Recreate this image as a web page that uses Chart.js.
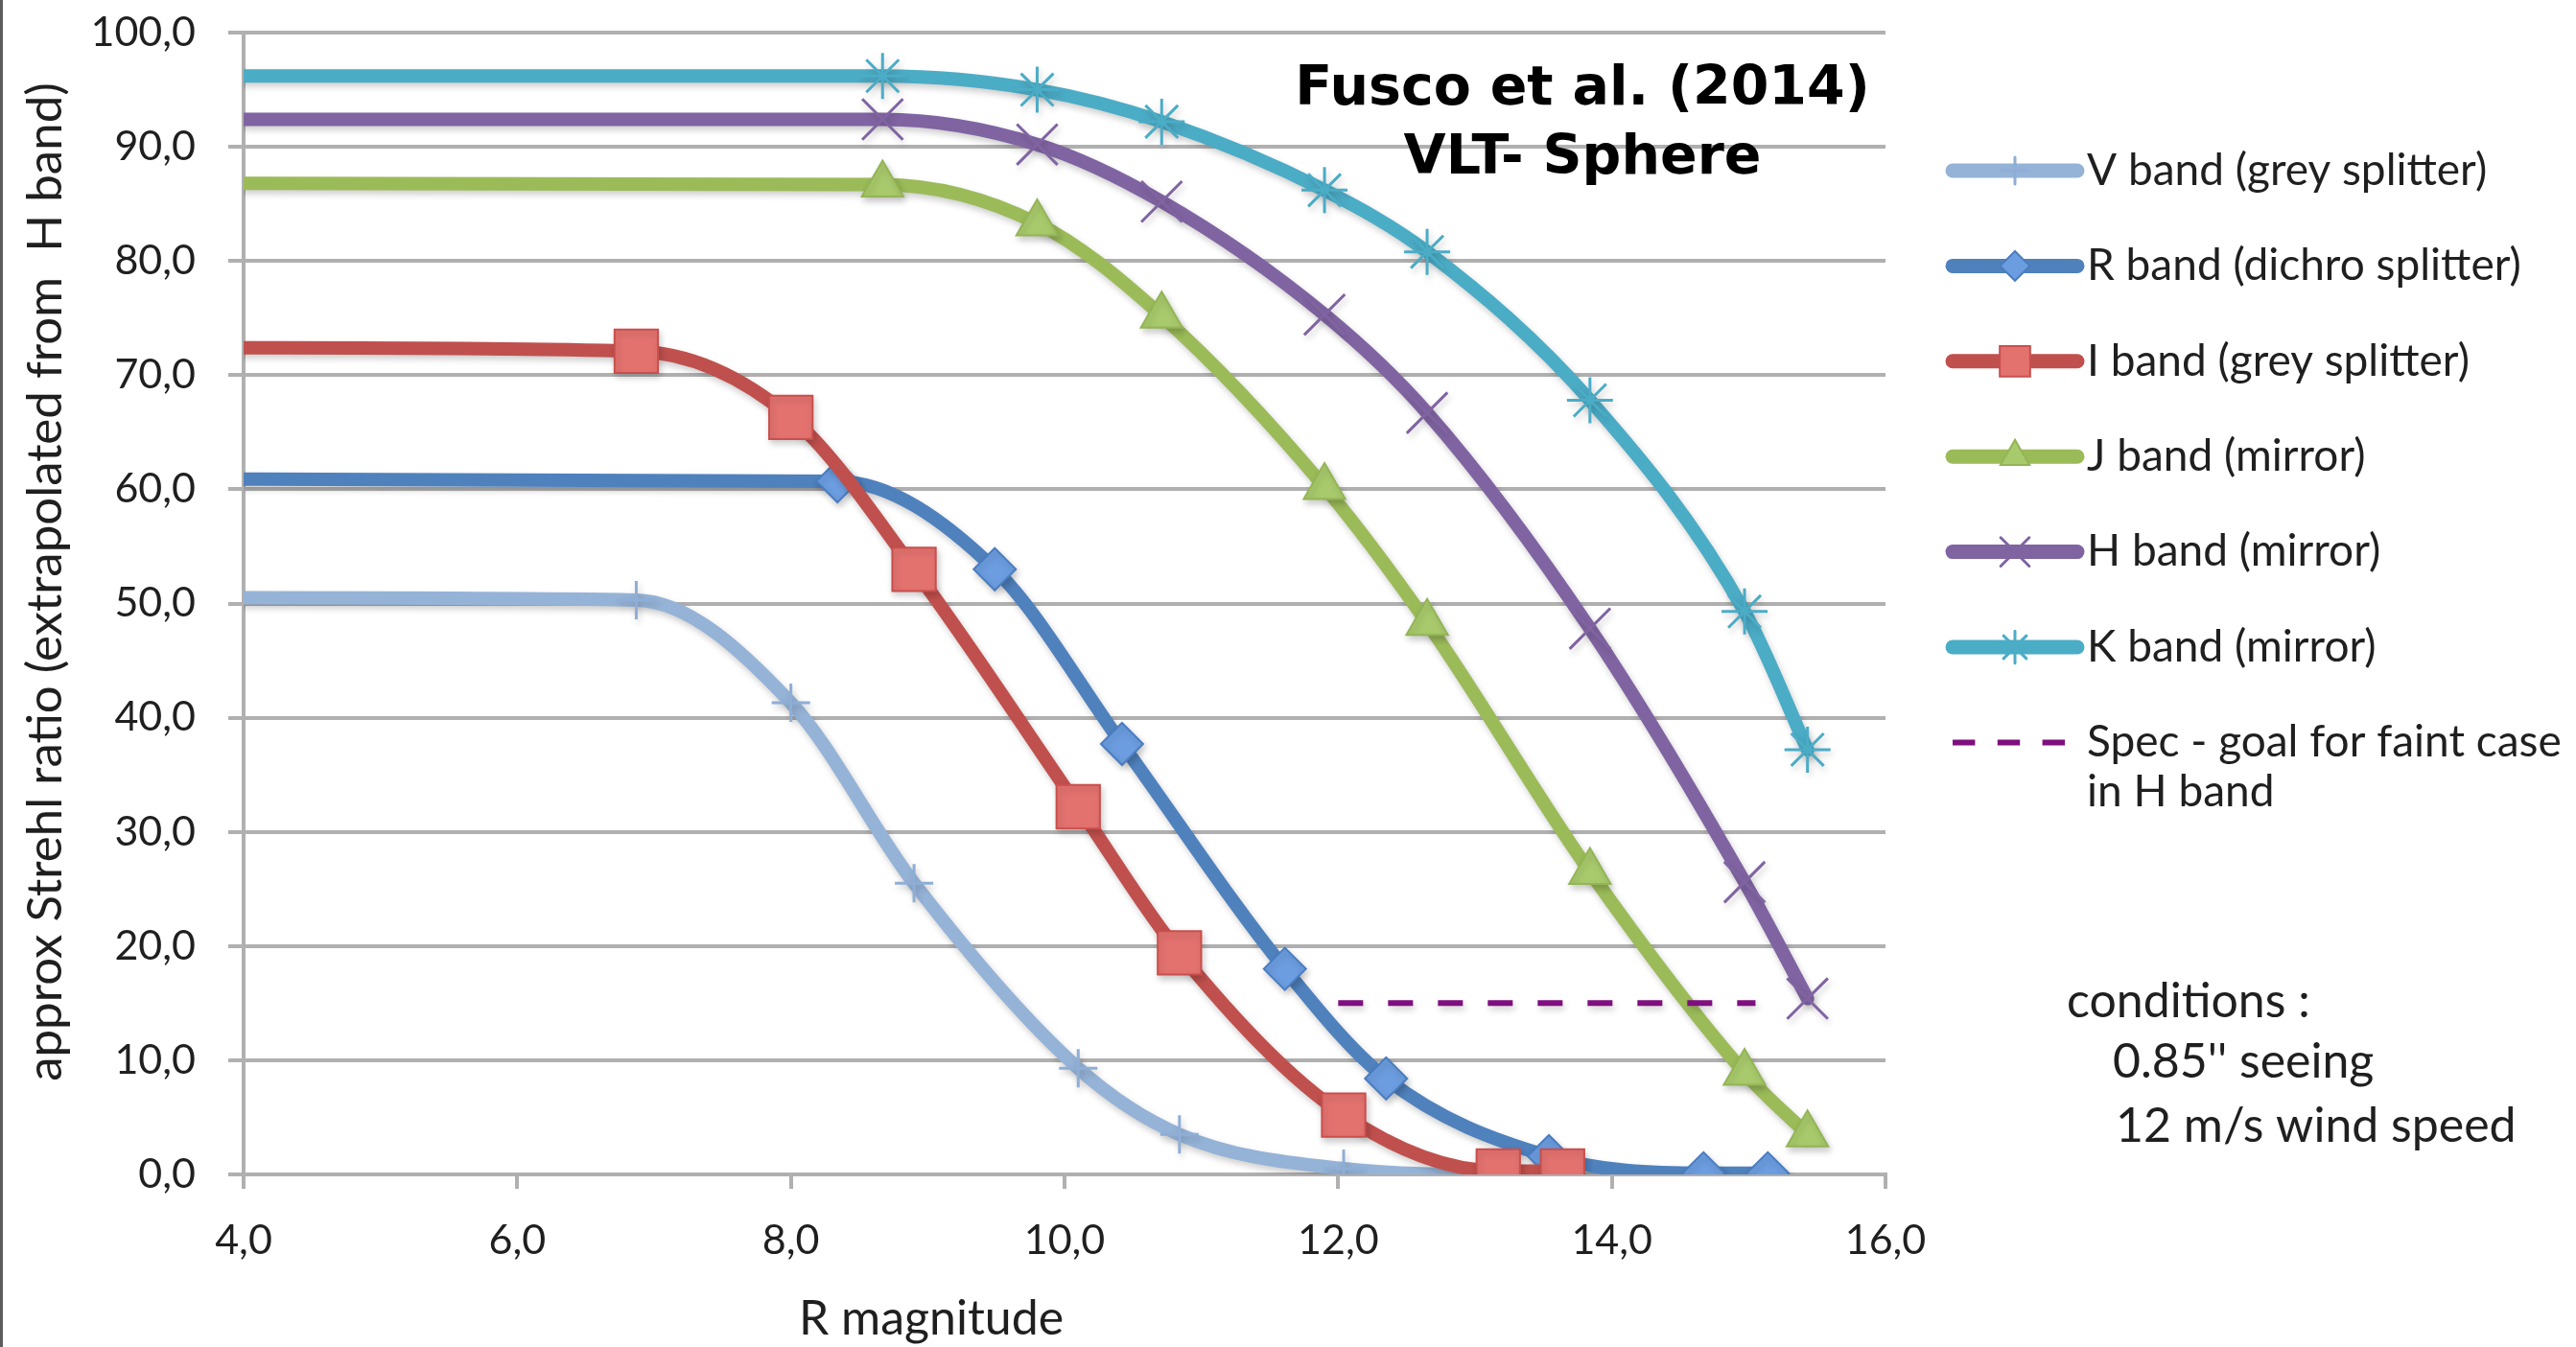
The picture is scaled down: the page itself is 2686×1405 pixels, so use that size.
<!DOCTYPE html>
<html>
<head>
<meta charset="utf-8">
<title>Strehl ratio vs R magnitude</title>
<script src="https://cdn.jsdelivr.net/npm/chart.js@4.4.1/dist/chart.umd.min.js"></script>
<style>
  html, body { margin: 0; padding: 0; background: #fff; }
  #wrap { width: 2686px; height: 1405px; }
</style>
</head>
<body>
<div id="wrap"><canvas id="strehl-canvas" width="2686" height="1405"></canvas></div>
<script>
// R magnitudes of the simulated cases (grey splitter runs share one grid, mirror runs another)
var magGrey = [4.0, 6.87, 8.0, 8.9, 10.1, 10.84, 12.04, 13.17, 13.64];
var magDichro = [4.0, 8.34, 9.49, 10.42, 11.61, 12.35, 13.54, 14.67, 15.14];
var magMirror = [4.0, 8.67, 9.80, 10.71, 11.9, 12.65, 13.84, 14.97, 15.43];

// approx Strehl ratio (%) per band
var strehlV = [50.5, 50.3, 41.3, 25.5, 9.3, 3.5, 0.5, 0.0, 0.0];
var strehlR = [60.9, 60.7, 53.0, 37.7, 18.0, 8.4, 1.6, 0.1, 0.1];
var strehlI = [72.4, 72.1, 66.3, 53.0, 32.2, 19.4, 5.2, 0.3, 0.3];
var strehlJ = [86.8, 86.7, 83.3, 75.2, 60.2, 48.3, 26.5, 8.9, 3.5];
var strehlH = [92.4, 92.4, 90.2, 85.2, 75.3, 66.7, 47.8, 25.6, 15.4];
var strehlK = [96.2, 96.2, 95.0, 92.2, 86.2, 80.8, 67.8, 49.3, 37.2];

// faint case spec in H band
var specMag = [12.0, 15.05];
var specStrehl = [15.0, 15.0];

var seriesNames = [
  "V band (grey splitter)",
  "R band (dichro splitter)",
  "I band (grey splitter)",
  "J band (mirror)",
  "H band (mirror)",
  "K band (mirror)",
  "Spec - goal for faint case"
];
var specNameLine2 = "in H band";

var xTicks = [4, 6, 8, 10, 12, 14, 16];
var yTicks = [0, 10, 20, 30, 40, 50, 60, 70, 80, 90, 100];

var xTitle = "R magnitude";
var yTitle = "approx Strehl ratio (extrapolated from  H band)";
var noteTitle = ["Fusco et al. (2014)", "VLT- Sphere"];
var conditions = ["conditions :", "0.85'' seeing", "12 m/s wind speed"];

var FONT = "Lato, 'Open Sans', sans-serif";
var TEXT = "#1f1f1f";
var GRID = "#b0b0b0";

function toPoints(xs, ys) {
  var pts = [];
  for (var i = 0; i < xs.length; i++) {
    pts.push({x: xs[i], y: ys[i]});
  }
  return pts;
}

// the first point of each curve sits on the axis and carries no marker
function markerSize(r) {
  return function(c) { return c.dataIndex === 0 ? 0 : r; };
}

function band(label, xs, ys, line, fill, edge, style, r, bw, order) {
  return {
    label: label,
    data: toPoints(xs, ys),
    borderColor: line,
    borderWidth: 14,
    borderCapStyle: 'round',
    borderJoinStyle: 'round',
    cubicInterpolationMode: 'monotone',
    pointStyle: style,
    pointRadius: markerSize(r),
    legendRadius: r * 0.7,
    pointBackgroundColor: fill,
    pointBorderColor: edge,
    pointBorderWidth: bw,
    order: order
  };
}

var datasets = [
  band(seriesNames[0], magGrey, strehlV, "#95b3d7", "#95b3d7", "#8eaed6", 'cross', 20, 3, 6),
  band(seriesNames[1], magDichro, strehlR, "#4f81bd", "#6c9de0", "#4a7dc0", 'rectRot', 22, 2, 5),
  band(seriesNames[2], magGrey, strehlI, "#c0504d", "#e3726f", "#c94f4c", 'rect', 32, 2, 4),
  band(seriesNames[3], magMirror, strehlJ, "#9bbb59", "#a9ca6c", "#93b556", 'triangle', 25, 2, 3),
  band(seriesNames[4], magMirror, strehlH, "#8064a2", "#8064a2", "#8064a2", 'crossRot', 30, 3, 2),
  band(seriesNames[5], magMirror, strehlK, "#4bacc6", "#4bacc6", "#4bacc6", 'star', 24, 3, 1),
  {
    label: seriesNames[6],
    data: toPoints(specMag, specStrehl),
    borderColor: "#7f0f7f",
    borderWidth: 6,
    borderDash: [26, 26],
    pointRadius: 0,
    tension: 0,
    order: 0
  }
];

var overlay = {
  id: 'overlay',
  beforeDraw: function(chart) {
    var ctx = chart.ctx;
    ctx.save();
    ctx.fillStyle = "#ffffff";
    ctx.fillRect(0, 0, chart.width, chart.height);
    ctx.fillStyle = "#5c5c5c";
    ctx.fillRect(0, 0, 3, chart.height);
    ctx.restore();
  },
  // soft drop shadow under the curves and markers
  beforeDatasetsDraw: function(chart) {
    var ctx = chart.ctx;
    ctx.save();
    ctx.shadowColor = "rgba(0, 0, 0, 0.2)";
    ctx.shadowBlur = 7;
    ctx.shadowOffsetX = 2;
    ctx.shadowOffsetY = 4;
  },
  afterDatasetsDraw: function(chart) {
    chart.ctx.restore();
  },
  afterDraw: function(chart) {
    var ctx = chart.ctx;
    var area = chart.chartArea;
    ctx.save();
    ctx.fillStyle = TEXT;
    ctx.textBaseline = 'middle';

    // axis titles
    ctx.textAlign = 'center';
    ctx.font = "50px " + FONT;
    ctx.fillText(xTitle, area.left + 717, 1376);
    ctx.save();
    ctx.font = "51px " + FONT;
    ctx.translate(48, area.top + 573);
    ctx.rotate(-Math.PI / 2);
    ctx.fillText(yTitle, 0, 0);
    ctx.restore();

    // citation
    ctx.fillStyle = "#000000";
    ctx.font = "bold 57px 'DejaVu Sans', sans-serif";
    ctx.fillText(noteTitle[0], 1650, 94);
    ctx.fillText(noteTitle[1], 1650, 166);

    // observing conditions
    ctx.fillStyle = TEXT;
    ctx.textAlign = 'left';
    ctx.font = "50px " + FONT;
    ctx.fillText(conditions[0], 2155, 1045);
    ctx.fillText(conditions[1], 2203, 1108);
    ctx.fillText(conditions[2], 2206, 1175);

    // legend: line sample with the marker in its middle
    var x0 = 2036, x1 = 2166, tx = 2176, y = 178, step = 99.4;
    ctx.font = "46px " + FONT;
    chart.data.datasets.forEach(function(ds, i) {
      var yy = y + i * step;
      ctx.save();
      ctx.strokeStyle = ds.borderColor;
      if (ds.borderDash) {
        ctx.lineWidth = ds.borderWidth;
        ctx.setLineDash(ds.borderDash.map(function(d) { return d * 0.9; }));
        ctx.lineCap = 'butt';
      } else {
        ctx.lineWidth = 15;
        ctx.lineCap = 'round';
      }
      ctx.beginPath();
      ctx.moveTo(x0, yy);
      ctx.lineTo(x1, yy);
      ctx.stroke();
      ctx.setLineDash([]);
      if (ds.legendRadius) {
        ctx.fillStyle = ds.pointBackgroundColor;
        ctx.strokeStyle = ds.pointBorderColor;
        ctx.lineWidth = ds.pointBorderWidth;
        Chart.helpers.drawPoint(ctx, {
          pointStyle: ds.pointStyle,
          radius: ds.legendRadius,
          rotation: 0,
          borderWidth: ds.pointBorderWidth
        }, (x0 + x1) / 2, yy);
      }
      ctx.restore();
      ctx.fillStyle = TEXT;
      ctx.fillText(ds.label, tx, yy);
    });
    ctx.fillText(specNameLine2, tx, y + 6 * step + 52);
    ctx.restore();
  }
};

var ctx = document.getElementById("strehl-canvas").getContext('2d');
var chart = new Chart(ctx, {
  type: 'line',
  data: { datasets: datasets },
  options: {
    responsive: false,
    devicePixelRatio: 1,
    animation: false,
    events: [],
    layout: { padding: { top: 30, right: 720, bottom: 0, left: 0 } },
    plugins: {
      legend: { display: false },
      tooltip: { enabled: false }
    },
    scales: {
      x: {
        type: 'linear',
        min: 4,
        max: 16,
        afterFit: function(scale) { scale.height = 180; },
        afterBuildTicks: function(scale) {
          scale.ticks = xTicks.map(function(v) { return {value: v}; });
        },
        ticks: {
          padding: 28,
          color: TEXT,
          font: { family: FONT, size: 43 },
          callback: function(v) { return v.toFixed(1).replace('.', ','); }
        },
        grid: {
          drawOnChartArea: false,
          drawTicks: true,
          tickLength: 15,
          color: GRID,
          lineWidth: 4
        },
        border: { display: true, color: GRID, width: 4 }
      },
      y: {
        min: 0,
        max: 100,
        // fixed axis width; the top/bottom label overhang stays inside the layout padding
        afterFit: function(scale) {
          scale.width = 254;
          scale.paddingTop = 0;
          scale.paddingBottom = 0;
        },
        afterBuildTicks: function(scale) {
          scale.ticks = yTicks.map(function(v) { return {value: v}; });
        },
        ticks: {
          padding: 34,
          color: TEXT,
          font: { family: FONT, size: 43 },
          callback: function(v) { return v.toFixed(1).replace('.', ','); }
        },
        grid: {
          color: GRID,
          lineWidth: 4,
          tickLength: 16
        },
        border: { display: true, color: GRID, width: 4 }
      }
    }
  },
  plugins: [overlay]
});
</script>
</body>
</html>
